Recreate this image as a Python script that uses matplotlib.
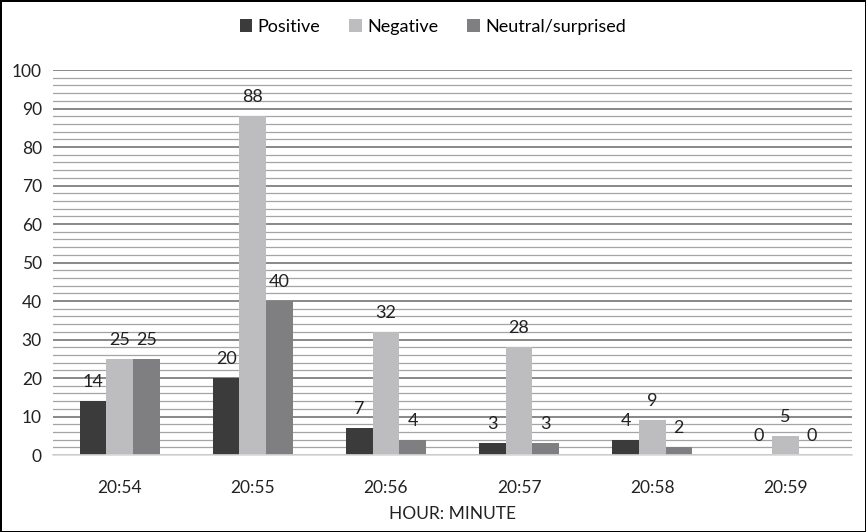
import matplotlib.pyplot as plt
import numpy as np

# Sentiment counts per minute
minutes   = ["20:54", "20:55", "20:56", "20:57", "20:58", "20:59"]
positive  = [14, 20, 7, 3, 4, 0]
negative  = [25, 88, 32, 28, 9, 5]
neutral   = [25, 40, 4, 3, 2, 0]

series_names  = ["Positive", "Negative", "Neutral/surprised"]
series_colors = ["#3b3b3b", "#bdbdbf", "#7f7f81"]

plt.rcParams['font.family'] = ['Lato', 'DejaVu Sans']

fig = plt.figure(figsize=(8.66, 5.32), dpi=100)
fig.patch.set_edgecolor("black")
fig.patch.set_linewidth(2)
axis = fig.add_axes([0.0612, 0.1447, 0.9226, 0.7237])

x = np.arange(len(minutes))
bar_width = 0.2
for i, (values, name, color) in enumerate(zip([positive, negative, neutral], series_names, series_colors)):
    offsets = x + (i - 1) * bar_width
    bars = axis.bar(offsets, values, width=bar_width, color=color, label=name, zorder=3)
    for bar, value in zip(bars, values):
        axis.annotate(str(value), (bar.get_x() + bar.get_width() / 2, value),
                      xytext=(0, 8), textcoords="offset points",
                      ha="center", va="bottom", fontsize=13, color="#222222", zorder=4)

axis.set_xlim(-0.5, len(minutes) - 0.5)
axis.set_ylim(0, 100)
axis.set_yticks(range(0, 101, 10))
axis.set_yticks(range(0, 101, 2), minor=True)
axis.set_xticks(x)
axis.set_xticklabels(minutes)

# Major and minor horizontal grid
axis.grid(axis="y", which="major", color="#747474", linewidth=1.2, zorder=0)
axis.grid(axis="y", which="minor", color="#a4a4a4", linewidth=0.9, zorder=0)
axis.tick_params(axis="both", which="both", length=0, labelsize=12.5, colors="#222222")
axis.tick_params(axis="x", pad=18)
axis.tick_params(axis="y", pad=8)

for side in ["top", "right", "left"]:
    axis.spines[side].set_visible(False)
axis.spines["bottom"].set_color("#d9d9d9")
axis.spines["bottom"].set_linewidth(1.2)
axis.spines["bottom"].set_zorder(3)

axis.set_xlabel("HOUR: MINUTE", fontsize=12.5, color="#222222", labelpad=7)

fig.legend(loc="upper center", bbox_to_anchor=(0.5, 0.995), ncol=3, frameon=False,
           fontsize=13, handlelength=0.7, handleheight=0.7, handletextpad=0.3,
           columnspacing=1.6)

fig.savefig("out.png", dpi=100)
